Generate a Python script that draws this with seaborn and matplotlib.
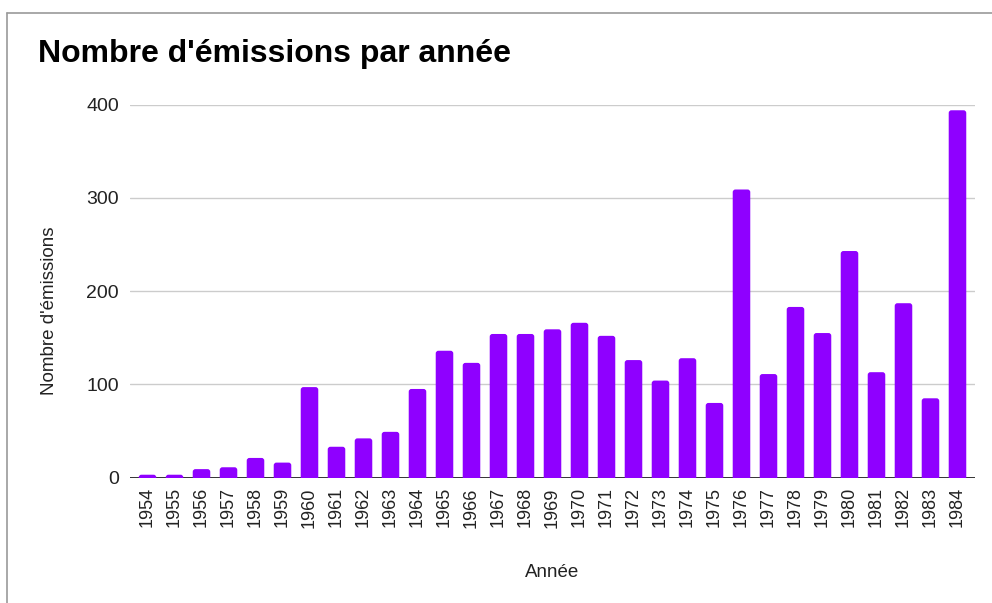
import matplotlib
matplotlib.use("Agg")
import matplotlib.pyplot as plt
import pandas as pd
import seaborn as sns
from matplotlib.lines import Line2D
from matplotlib.patches import FancyBboxPatch

# Data
years = [str(y) for y in range(1954, 1985)]
counts = [3, 3, 9, 11, 21, 16, 97, 33, 42, 49, 95, 136, 123, 154, 154, 159,
          166, 152, 126, 104, 128, 80, 309, 111, 183, 155, 243, 113, 187, 85, 394]
y_ticks = [0, 100, 200, 300, 400]

data = pd.DataFrame({"annee": years, "emissions": counts})

# Style
sns.set_theme(style="white")
plt.rcParams["font.family"] = ["Liberation Sans", "DejaVu Sans"]

fig = plt.figure(figsize=(9.92, 6.03), dpi=100)
ax = fig.add_axes([0.131, 0.2081, 0.8519, 0.6183])

sns.barplot(
    data=data,
    x="annee",
    y="emissions",
    color="#8f00ff",
    saturation=1,
    width=0.65,
    ax=ax,
    zorder=3,
)

ax.set_xlim(-0.65, len(years) - 0.35)
ax.set_ylim(0, 400)

# rounded bar tops: swap each rectangle for a rounded box, bottom pushed
# below the axis so only the top corners show
for bar in list(ax.patches):
    x, y0 = bar.get_x(), bar.get_y()
    w, h = bar.get_width(), bar.get_height()
    rounded = FancyBboxPatch(
        (x, y0 - 6), w, h + 6,
        boxstyle="round,pad=0,rounding_size=0.1",
        mutation_aspect=29,
        facecolor=bar.get_facecolor(), edgecolor="none", zorder=3,
    )
    bar.remove()
    ax.add_patch(rounded)

ax.set_yticks(y_ticks)
ax.yaxis.grid(True, color="#cccccc", linewidth=1, zorder=0)
ax.set_axisbelow(True)
ax.axhline(0, color="#333333", linewidth=1.4, zorder=2)

for side in ["top", "right", "left", "bottom"]:
    ax.spines[side].set_visible(False)

ax.tick_params(axis="y", length=0, pad=8, labelsize=14, labelcolor="#222222")
ax.tick_params(axis="x", length=0, pad=7, labelsize=13, labelcolor="#222222",
               labelrotation=90)
ax.set_xlabel("")
ax.set_ylabel("")

# Titles and axis labels
fig.text(38 / 992, 1 - 62 / 603, "Nombre d'émissions par année",
         fontsize=23, fontweight="bold", color="#000000",
         ha="left", va="baseline")
fig.text(50 / 992, 1 - 311 / 603, "Nombre d'émissions", rotation=90,
         fontsize=13.5, color="#222222", ha="center", va="center")
fig.text(552 / 992, 1 - 577 / 603, "Année", fontsize=13.5, color="#222222",
         ha="center", va="baseline")

# Thin frame of the screenshot (top and left)
fig.add_artist(Line2D([7 / 992, 1], [1 - 13 / 603, 1 - 13 / 603],
                      transform=fig.transFigure, color="#9a9a9a", linewidth=1.2))
fig.add_artist(Line2D([7 / 992, 7 / 992], [0, 1 - 13 / 603],
                      transform=fig.transFigure, color="#9a9a9a", linewidth=1.2))

fig.savefig("out.png", dpi=100)
plt.close(fig)
